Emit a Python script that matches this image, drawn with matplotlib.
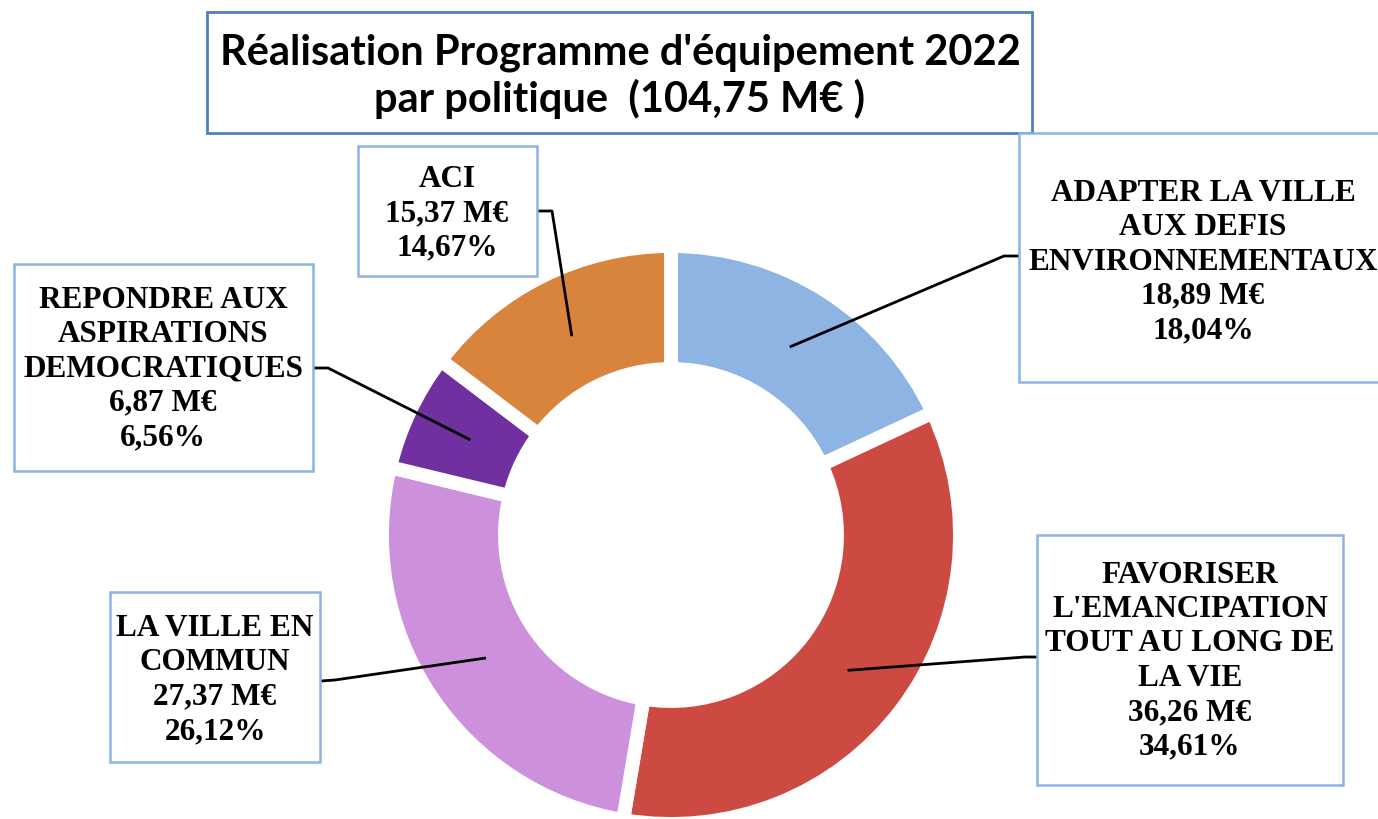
import numpy as np
import matplotlib
matplotlib.use("Agg")
from matplotlib import pyplot as plt
from matplotlib.patches import Rectangle

# data
categories = ["ADAPTER LA VILLE\nAUX DEFIS\nENVIRONNEMENTAUX",
              "FAVORISER\nL'EMANCIPATION\nTOUT AU LONG DE\nLA VIE",
              "LA VILLE EN\nCOMMUN",
              "REPONDRE AUX\nASPIRATIONS\nDEMOCRATIQUES",
              "ACI"]
amounts = [18.89, 36.26, 27.37, 6.87, 15.37]          # M€
percents = [18.04, 34.61, 26.12, 6.56, 14.67]         # %
colors = ["#8EB4E3", "#CD4A43", "#CD90DC", "#7030A0", "#D9843C"]
title = "Réalisation Programme d'équipement 2022\npar politique  (104,75 M€ )"

W, H = 1378, 819
fig = plt.figure(figsize=(W / 100, H / 100), dpi=100)
ax = fig.add_axes([0, 0, 1, 1])

def fy(y):  # pixel row (top origin) -> data y
    return H - y

cx, cy = 671, fy(535)
r_out, r_in = 289, 166
ax.pie(percents, colors=colors, startangle=90, counterclock=False,
       center=(cx, cy), radius=r_out,
       wedgeprops=dict(width=r_out - r_in, edgecolor="white", linewidth=10))
ax.set_xlim(0, W)
ax.set_ylim(0, H)
ax.set_aspect("equal")
ax.axis("off")

# title box
ax.add_patch(Rectangle((207, fy(133)), 825, 121, fill=False,
                       edgecolor="#4F7FBF", linewidth=2, zorder=3))
ax.text(620, fy(76), title, ha="center", va="center", fontsize=30,
        fontweight="bold", family="Lato", linespacing=1.22)

# label boxes: (x0, y0, x1, y1), text centre, box-edge point, elbow point
boxes = [(1019, 133, 1385, 382), (1037, 535, 1343, 785), (110, 592, 320, 762),
         (14, 264, 313, 471), (358, 146, 537, 276)]
text_pos = [(1203, 262), (1190, 661), (215, 680), (163, 369), (447, 214)]
edge_pts = [(1019, 256), (1037, 657), (321, 681), (314, 368), (538, 211)]
elbows = [(1004, 256), (1025, 657), (335, 680), (328, 368), (552, 211)]

cum = np.cumsum([0] + percents)
r_mid = (r_out + r_in) / 2 - 4
for i in range(len(categories)):
    x0, y0, x1, y1 = boxes[i]
    ax.add_patch(Rectangle((x0, fy(y1)), x1 - x0, y1 - y0, facecolor="white",
                           edgecolor="#8DB3E2", linewidth=1.8, zorder=3))
    amt = f"{amounts[i]:.2f}".replace(".", ",") + " M€"
    pct = f"{percents[i]:.2f}".replace(".", ",") + "%"
    ax.text(text_pos[i][0], fy(text_pos[i][1]), categories[i] + "\n" + amt + "\n" + pct,
            ha="center", va="center", fontsize=22.5, fontweight="bold",
            family="Liberation Serif", linespacing=1.24, zorder=4)
    mid = (cum[i] + cum[i + 1]) / 2 / 100 * 360
    ang = np.deg2rad(90 - mid)
    ax_ = cx + r_mid * np.cos(ang)
    ay_ = cy + r_mid * np.sin(ang)
    ex, ey = elbows[i]
    px, py = edge_pts[i]
    ax.plot([ax_, ex, px], [ay_, fy(ey), fy(py)], color="black", linewidth=2,
            zorder=2.5)

fig.savefig("out.png", dpi=100, facecolor="white")
